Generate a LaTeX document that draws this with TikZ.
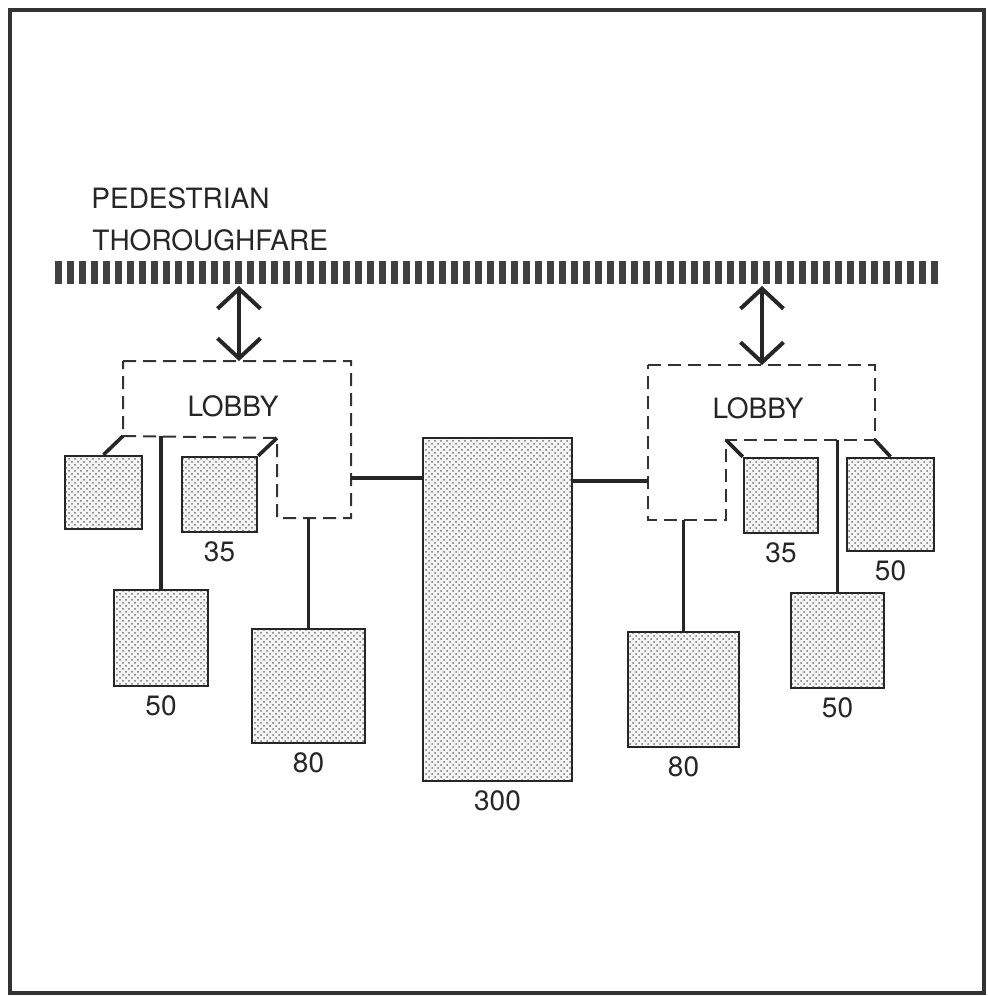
\documentclass[tikz,border=0pt]{standalone}
\usepackage{fontspec}
\setmainfont{TeX Gyre Heros}
\usetikzlibrary{arrows.meta,patterns}

\begin{document}
\begin{tikzpicture}[x=0.5pt, y=-0.5pt,
  texto/.style={inner sep=0pt, font=\fontsize{14}{16}\selectfont, text=black!85},
  cota/.style={texto, yshift=-4pt},
  sala/.style 2 args={draw=black!85, line width=1.2pt, preaction={fill=black!4},
    pattern=crosshatch dots, pattern color=black!55, inner sep=0pt,
    minimum width=#1, minimum height=#2},
  saguao/.style={draw=black!80, line width=1pt, dash pattern=on 6.5pt off 3.5pt},
  ligacao/.style={draw=black!85, line width=1.8pt},
  duplo/.style={{Straight Barb[length=10pt,width=21.5pt]}-{Straight Barb[length=10pt,width=21.5pt]},
    draw=black!85, line width=2pt}]
\useasboundingbox (0,0) rectangle (987,996);
\draw[black!80, line width=2pt] (10,10) rectangle (984,993);

% Passeio de pedestres
\foreach \i in {0,...,73}
  \fill[black!75] (55+12*\i,261) rectangle ++(7,23);
\node[texto, anchor=base west] (ped) at (91,208) {PEDESTRIAN};
\node[texto, anchor=base west] (thor) at (92,250) {THOROUGHFARE};

% Saguao esquerdo
\coordinate (lobA1) at (123,361);
\coordinate (lobA2) at (351,361);
\coordinate (lobA3) at (351,518);
\coordinate (lobA4) at (277,518);
\coordinate (lobA5) at (277,438);
\coordinate (lobA6) at (123,436);
\coordinate (lobA-e) at (351,478);
\draw[saguao] (lobA1) -- (lobA2) -- (lobA3) -- (lobA4) -- (lobA5) -- (lobA6) -- cycle;
\node[texto] (lobbyA) at (233,406) {LOBBY};

% Saguao direito
\coordinate (lobB1) at (648,365);
\coordinate (lobB2) at (875,365);
\coordinate (lobB3) at (875,440);
\coordinate (lobB4) at (726,440);
\coordinate (lobB5) at (726,520);
\coordinate (lobB6) at (648,520);
\coordinate (lobB-w) at (648,481);
\draw[saguao] (lobB1) -- (lobB2) -- (lobB3) -- (lobB4) -- (lobB5) -- (lobB6) -- cycle;
\node[texto] (lobbyB) at (758,408) {LOBBY};

% Salas
\node[sala={38.5pt}{36.5pt}] (boxA) at (103.5,492.5) {};
\node[sala={47pt}{48pt}, label={[cota]below:50}] (boxB) at (161,638) {};
\node[sala={37.5pt}{37.5pt}, label={[cota]below:35}] (boxC) at (219.5,494.5) {};
\node[sala={56.5pt}{57pt}, label={[cota]below:80}] (boxD) at (308.5,686) {};
\node[sala={74.5pt}{171.5pt}, label={[cota]below:300}] (boxE) at (497.5,609.5) {};
\node[sala={55.5pt}{57.5pt}, label={[cota]below:80}] (boxF) at (683.5,689.5) {};
\node[sala={37pt}{37.5pt}, label={[cota]below:35}] (boxG) at (781,495.5) {};
\node[sala={46.5pt}{47.5pt}, label={[cota]below:50}] (boxH) at (837.5,640.5) {};
\node[sala={43.5pt}{46.5pt}, label={[cota]below:50}] (boxI) at (890.5,504.5) {};

% Ligacoes
\draw[ligacao] (lobA6) -- (boxA.north);
\draw[ligacao] (lobA6 -| boxB.north) -- (boxB.north);
\draw[ligacao] (lobA5) -- (boxC.north east);
\draw[ligacao] (lobA3 -| boxD.north) -- (boxD.north);
\draw[ligacao] (lobA-e) -- (lobA-e -| boxE.west);
\draw[ligacao] (lobB-w) -- (lobB-w -| boxE.east);
\draw[ligacao] (lobB4) -- (boxG.north west);
\draw[ligacao] (lobB3) -- (boxI.north);
\draw[ligacao] (lobB3 -| boxH.north) -- (boxH.north);
\draw[ligacao] (lobB5 -| boxF.north) -- (boxF.north);

% Entradas
\coordinate (entA) at (239,286);
\coordinate (entB) at (762,286);
\draw[duplo] (entA) -- (entA |- lobA1);
\draw[duplo] (entB) -- (entB |- lobB1);
\end{tikzpicture}
\end{document}
